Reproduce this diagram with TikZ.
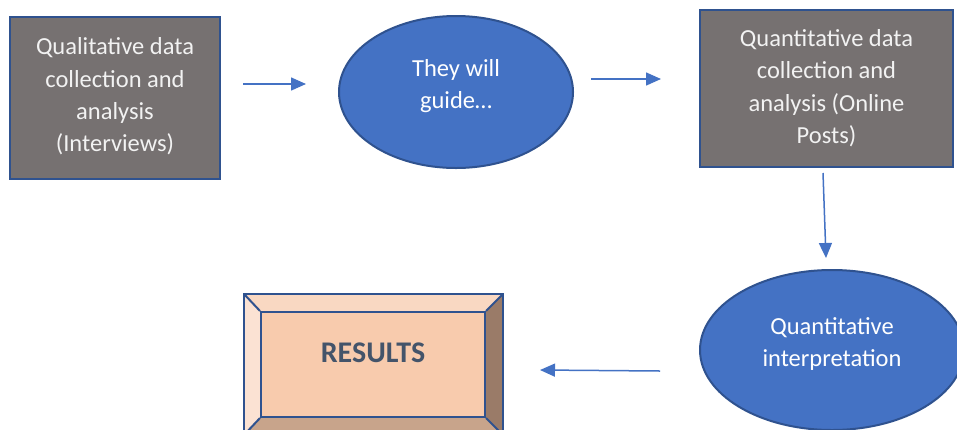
\documentclass[tikz,border=0pt]{standalone}
\usepackage{fontspec}
\setmainfont{Carlito}
\usetikzlibrary{shapes.geometric,arrows.meta}
\definecolor{boxgray}{HTML}{767171}
\definecolor{edgeblue}{HTML}{2F528F}
\definecolor{fillblue}{HTML}{4472C4}
\definecolor{arrowblue}{HTML}{4472C4}
\definecolor{bevcenter}{HTML}{F8CBAD}
\definecolor{bevtop}{HTML}{F9D8C2}
\definecolor{bevleft}{HTML}{FBE2D3}
\definecolor{bevright}{HTML}{9A7B68}
\definecolor{bevbottom}{HTML}{C8A48B}
\definecolor{restext}{HTML}{44546A}
\tikzset{
  graybox/.style={draw=edgeblue, line width=2pt, fill=boxgray, rectangle, inner sep=0pt},
  blueell/.style={draw=edgeblue, line width=2pt, fill=fillblue, ellipse, inner sep=0pt},
  lbl/.style={align=center, text=white, font=\fontsize{24.5pt}{32.4pt}\selectfont, inner sep=0pt},
  flow/.style={draw=arrowblue, line width=1.5pt, -{Triangle[length=15pt,width=13pt]}},
}
\begin{document}
\begin{tikzpicture}[x=1pt,y=-1pt]
\useasboundingbox (0,0) rectangle (957,429);
\fill[white] (0,0) rectangle (957,429);
% boxes and ellipses
\node[graybox, minimum width=210pt, minimum height=162pt] (q1) at (115,98) {};
\node[lbl, text=white!95!black] (q1t) at (115,96.5) {Qualitative data\\collection and\\analysis\\(Interviews)};
\node[blueell, minimum width=234pt, minimum height=152pt] (g) at (456,92) {};
\node[lbl] (gt) at (456,86) {They will\\guide\ldots};
\node[graybox, minimum width=253pt, minimum height=157pt] (q2) at (826.5,88.5) {};
\node[lbl, text=white!95!black] (q2t) at (826.5,88) {Quantitative data\\collection and\\analysis (Online\\Posts)};
\node[blueell, minimum width=264pt, minimum height=160pt] (qi) at (832,350) {};
\node[lbl] (qit) at (832,344) {Quantitative\\interpretation};
% bevel results box
\fill[bevtop] (244,294) -- (503,294) -- (485,312) -- (261,312) -- cycle;
\fill[bevleft] (244,294) -- (261,312) -- (261,417) -- (244,435) -- cycle;
\fill[bevright] (503,294) -- (503,435) -- (485,417) -- (485,312) -- cycle;
\fill[bevbottom] (244,435) -- (261,417) -- (485,417) -- (503,435) -- cycle;
\node[rectangle, fill=bevcenter, draw=edgeblue, line width=2pt, minimum width=224pt, minimum height=105pt, inner sep=0pt] (res) at (373,364.5) {};
\draw[edgeblue, line width=2pt] (244,294) rectangle (503,435);
\draw[edgeblue, line width=2pt] (244,294) -- (res.north west) (503,294) -- (res.north east) (244,435) -- (res.south west) (503,435) -- (res.south east);
\node[font=\bfseries\fontsize{30pt}{32pt}\selectfont, text=restext, inner sep=0pt] (rest) at (373,353) {RESULTS};
% connectors
\coordinate (a1s) at (243,84);
\coordinate (a1e) at (306,84);
\coordinate (a2s) at (591,79);
\coordinate (a2e) at (661,79);
\coordinate (a3s) at (823,173);
\coordinate (a3e) at (826,258);
\coordinate (a4s) at (660,371);
\coordinate (a4e) at (540,370);
\draw[flow] (a1s) -- (a1e);
\draw[flow] (a2s) -- (a2e);
\draw[flow] (a3s) -- (a3e);
\draw[flow] (a4s) -- (a4e);
\end{tikzpicture}
\end{document}
